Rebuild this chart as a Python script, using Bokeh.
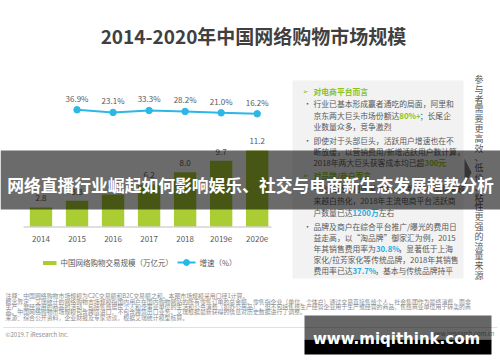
from bokeh.plotting import figure
from bokeh.models import Range1d
from bokeh.core.properties import value
from bokeh.embed import file_html
from bokeh.resources import INLINE

# ---------------- data ----------------
years = ["2014", "2015", "2016", "2017", "2018", "2019e", "2020e"]
market = [2.8, 3.8, 4.7, 6.2, 8.0, 9.7, 11.2]
market_labels = ["2.8", "3.8", "4.7", "6.2", "8.0", "9.7", "11.2"]
growth_years = ["2015", "2016", "2017", "2018", "2019e", "2020e"]
growth = [36.9, 23.1, 33.3, 28.2, 21.0, 16.2]
growth_labels = ["36.9%", "23.1%", "33.3%", "28.2%", "21.0%", "16.2%"]

title = "2014-2020年中国网络购物市场规模"
banner = "网络直播行业崛起如何影响娱乐、社交与电商新生态发展趋势分析"
legend_bar = "中国网络购物交易规模（万亿元）"
legend_line = "增速（%）"
side_note = "参与者需要更高效、低价、粘性更强的流量来源"
box_lines = [
    ("h", [("对电商平台而言", "h")]),
    ("b", [("行业已基本形成赢者通吃的局面，阿里和", "n")]),
    ("c", [("京东两大巨头市场份额达", "n"), ("80%+", "g"), ("；长尾企", "n")]),
    ("c", [("业数量众多，竞争激烈", "n")]),
    ("b", [("即使对于头部巨头，活跃用户增速也在不", "n")]),
    ("c", [("断放缓，以营销费用/新增活跃用户数计算，", "n")]),
    ("c", [("2018年两大巨头获客成本均已超", "n"), ("300元", "g")]),
    ("h", [("对品牌/商户而言", "h")]),
    ("b", [("平台流量红利逐渐消失，品牌/商户间竞争越", "n")]),
    ("c", [("来越白热化，2018年主流电商平台活跃商", "n")]),
    ("c", [("户数量已达", "n"), ("1200万", "bl"), ("左右", "n")]),
    ("b", [("品牌及商户在综合平台推广/曝光的费用日", "n")]),
    ("c", [("益走高，以“淘品牌”御家汇为例，2015", "n")]),
    ("c", [("年其销售费用率为", "n"), ("30.8%", "bl"), ("，显著低于上海", "n")]),
    ("c", [("家化/拉芳家化等传统品牌，2018年其销售", "n")]),
    ("c", [("费用率已达", "n"), ("37.7%", "bl"), ("，基本与传统品牌持平", "n")]),
]
notes = [
    "注释：中国网络购物市场规模为C2C交易额和B2C交易额之和。本图市场规模采用口径1计算。",
    "概念界定：艾瑞统计的网络购物市场规模指国内用户在国内购物网站的所有零售订单的总金额。零售指企业（单位、个体户）通过交易直接售给个人、社会集团作为最终消费，而非",
    "生产、非经营用的商品的活动，包括售给居民个人和企事业单位的生活和公共消费（如办公用品），但不包括售给生产经营企业用于生产或经营的商品，售给商业单位用于转卖的商",
    "品。中国网络购物市场规模包含跨境进口，不包含跨境出口业务。艾瑞根据最新获得的信息对历史数据进行了调整。",
    "来源：综合公开资料，企业财报及专家访谈，根据艾瑞统计模型核算。",
]
copyright_text = "©2019.7 iResearch Inc."
site_text = "www.iresearch.com.cn"
watermark = "www.miqithink.com"

# ---------------- style / layout ----------------
CJK = value("Noto Sans CJK SC")
GREEN = "#a9cd32"
BLUE = "#2cb8e6"
HGREEN = "#8dc21f"
HBLUE = "#29abe2"
TXT = "#595959"

W, H = 500, 362
p = figure(width=W, height=H, x_range=Range1d(0, W), y_range=Range1d(H, 0),
           output_backend="svg", toolbar_location=None,
           x_axis_location=None, y_axis_location=None, min_border=0)
p.grid.visible = False
p.outline_line_color = None
p.background_fill_color = "white"

# chart scales mapped onto the page
X0, DX = 40.5, 36.03          # centre of first bar, spacing
BASE, PXV = 226.0, 6.786      # baseline y, px per unit
PY0, PP = 109.3, 0.1932       # y of 36.9%, px per %
p.extra_x_ranges = {"yr": Range1d((0 - X0) / DX, (W - X0) / DX)}
p.extra_y_ranges = {
    "val": Range1d((BASE - H) / PXV, BASE / PXV),
    "pct": Range1d(36.9 - (H - PY0) / PP, 36.9 + PY0 / PP),
}

idx = list(range(len(years)))
gidx = [years.index(g) for g in growth_years]


def tw(s, fs):
    w = 0.0
    for ch in s:
        if ord(ch) >= 0x2E80 or ch in "，；：（）、。“”":
            w += fs
        elif ch == ".":
            w += 0.27 * fs
        elif ch == "%":
            w += 0.84 * fs
        elif ch == "/":
            w += 0.38 * fs
        else:
            w += 0.56 * fs
    return w


# title
p.text(x=[253], y=[34.5], text=[title], text_font=CJK, text_font_style="bold",
       text_font_size=value("19px"), text_color="#404040",
       text_align="center", text_baseline="middle")

# bars
p.vbar(x=idx, top=market, bottom=0, width=0.62, x_range_name="yr", y_range_name="val",
       fill_color=GREEN, line_color=None)
p.text(x=idx, y=market, text=market_labels, x_range_name="yr", y_range_name="val",
       y_offset=-9, text_font=CJK, text_font_size=value("8px"), text_color=TXT,
       text_align="center", text_baseline="middle")
# axis line + labels
p.segment(x0=[23], y0=[226.5], x1=[271], y1=[226.5], line_color="#bfbfbf", line_width=1)
p.text(x=idx, y=[238] * len(idx), text=years, x_range_name="yr", text_font=CJK,
       text_font_size=value("8px"), text_color=TXT, text_align="center", text_baseline="middle")

# growth line
p.line(x=gidx, y=growth, x_range_name="yr", y_range_name="pct", line_color=BLUE, line_width=2)
p.scatter(x=gidx, y=growth, x_range_name="yr", y_range_name="pct", marker="circle",
          size=6.5, fill_color=BLUE, line_color=BLUE)
p.text(x=gidx, y=growth, text=growth_labels, x_range_name="yr", y_range_name="pct",
       y_offset=-11.5, text_font=CJK, text_font_size=value("8px"), text_color=TXT,
       text_align="center", text_baseline="middle")

# legend
p.quad(left=[42.5], right=[56], top=[260.5], bottom=[264.5], fill_color=GREEN, line_color=None)
p.text(x=[60], y=[262], text=[legend_bar], text_font=CJK, text_font_size=value("7.5px"),
       text_color=TXT, text_baseline="middle")
p.segment(x0=[177], y0=[262], x1=[195], y1=[262], line_color=BLUE, line_width=2)
p.scatter(x=[186], y=[262], marker="circle", size=6, fill_color=BLUE, line_color=BLUE)
p.text(x=[199], y=[262], text=[legend_line], text_font=CJK, text_font_size=value("7.5px"),
       text_color=TXT, text_baseline="middle")

# right text box
p.quad(left=[292], right=[463], top=[80], bottom=[278], fill_color="#f2f2f2", line_color=None)
box_y = [91, 103, 114.5, 126, 140, 151, 162, 175, 188, 200, 211.5, 226, 237, 248, 259, 270]
FS = 7.8
colors = {"n": TXT, "g": HGREEN, "bl": HBLUE, "h": HGREEN}
for (kind, segs), yy in zip(box_lines, box_y):
    if kind == "h":
        p.text(x=[302], y=[yy], text=["➢"], text_font=value("DejaVu Sans"),
               text_font_size=value("7px"), text_color=HGREEN, text_baseline="middle")
    elif kind == "b":
        p.text(x=[303], y=[yy], text=["•"], text_font=CJK, text_font_size=value("8px"),
               text_color=TXT, text_baseline="middle")
    xx = 313
    for s, st in segs:
        bold = "bold" if st != "n" else "normal"
        p.text(x=[xx], y=[yy], text=[s], text_font=CJK, text_font_size=value(f"{FS}px"),
               text_font_style=bold, text_color=colors[st], text_baseline="middle")
        xx += tw(s, FS) * (1.04 if st != "n" else 1.0)

# arrow and vertical note
p.patch(x=[464, 471, 464], y=[158, 172, 186], fill_color="#7f7f7f", line_color=None)
for k, ch in enumerate(side_note):
    p.text(x=[478.5], y=[79 + 9.8 * k], text=[ch], text_font=CJK, text_font_size=value("9px"),
           text_color=TXT, text_align="center", text_baseline="middle")

# notes
note_y = [295, 300.5, 306, 311.2, 316.5]
p.text(x=[5] * len(notes), y=note_y, text=notes, text_font=CJK,
       text_font_size=value("5.9px"), text_color="#8c8c8c", text_baseline="middle")
p.segment(x0=[3], y0=[327], x1=[497], y1=[327], line_color="#d9d9d9", line_width=0.8)
p.text(x=[5], y=[334], text=[copyright_text], text_font=CJK, text_font_size=value("6px"),
       text_color="#8c8c8c", text_baseline="middle")
p.text(x=[494], y=[333], text=[site_text], text_font=CJK, text_font_size=value("6px"),
       text_color="#8c8c8c", text_align="right", text_baseline="middle")

# banner overlay
p.quad(left=[0], right=[500], top=[150], bottom=[209], fill_color="black",
       fill_alpha=0.58, line_color=None)
p.text(x=[250], y=[184], text=[banner], text_font=CJK, text_font_style="bold",
       text_font_size=value("16.8px"), text_color="white",
       text_align="center", text_baseline="middle")

# watermark
p.quad(left=[304], right=[491], top=[315], bottom=[339], fill_color="black",
       fill_alpha=0.6, line_color=None)
p.quad(left=[304], right=[491], top=[339], bottom=[354], fill_color="black", line_color=None)
p.text(x=[396], y=[338], text=[watermark], text_font=value("DejaVu Sans"), text_font_style="bold",
       text_font_size=value("15px"), text_color="white",
       text_align="center", text_baseline="middle")

open("out.html", "w").write(file_html(p, INLINE))
